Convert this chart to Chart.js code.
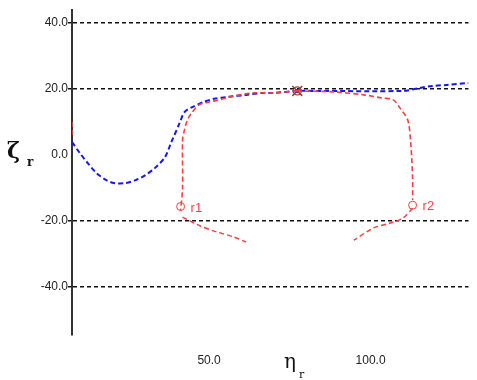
<!DOCTYPE html>
<html>
<head>
<meta charset="utf-8">
<script src="https://cdn.jsdelivr.net/npm/chart.js@4"></script>
<style>body{margin:0;background:#fff}</style>
</head>
<body>
<canvas id="c" width="477" height="380"></canvas>
<script>
// values (eta_r, zeta_r)
const yTicks = [-40, -20, 0, 20, 40];
const xTicks = [50, 100];

const blueX = [7.6, 10.0, 12.4, 15.2, 18.2, 20.6, 24.2, 27.3, 30.3, 33.3, 36.4, 38.2, 40.9, 42.4, 44.8, 48.5, 51.5, 56.1, 61.5, 66.7, 69.7, 77.3, 82.7, 110.0, 115.2, 119.1, 123.6, 130.3];
const blueY = [3.9, 0.6, -2.4, -5.5, -7.6, -8.5, -8.5, -7.6, -6.1, -3.9, -0.6, 3.6, 9.7, 13.0, 14.5, 16.1, 17.0, 17.6, 18.2, 18.8, 18.8, 19.4, 19.4, 19.4, 20.3, 20.9, 21.2, 21.8];

const red1X = [77.3, 69.7, 63.9, 56.4, 53.3, 50.3, 47.0, 44.8, 43.3, 42.4, 41.8, 41.8, 41.2];
const red1Y = [19.4, 18.8, 18.8, 17.6, 16.7, 16.1, 15.2, 13.0, 10.6, 7.6, 4.5, -10.0, -16.7];

const red1TailX = [41.8, 47.3, 52.4, 57.6, 61.5];
const red1TailY = [-18.8, -21.5, -23.3, -24.8, -26.4];

const red2X = [77.3, 88.8, 97.9, 103.3, 107.0, 109.1, 111.5, 112.4, 113.0, 113.0];
const red2Y = [19.4, 19.1, 18.2, 17.3, 16.7, 14.2, 10.6, 3.9, -7.0, -13.6];

const red2TailX = [113.0, 110.0, 106.1, 100.9, 94.8];
const red2TailY = [-16.1, -19.1, -20.6, -22.1, -25.8];

const redEdgeX = [7.6, 7.6];
const redEdgeY = [10.0, 6.0];

const meetX = [77.3];
const meetY = [19.4];

const tagText = ['r1', 'r2'];
const tagX = [41.2, 113.0];
const tagY = [-15.6, -15.2];

const pts = (xs, ys) => xs.map((x, i) => ({ x: x, y: ys[i] }));

const BLUE = '#1414ff';
const RED = '#ff3b3b';
const line = (xs, ys, color, w) => ({
  data: pts(xs, ys),
  showLine: true,
  borderColor: color,
  borderWidth: w,
  borderDash: [5, 3],
  tension: 0.3,
  pointRadius: 0,
  fill: false
});

const titles = {
  id: 'titles',
  afterDraw(chart) {
    const ctx = chart.ctx;
    const sx = chart.scales.x, sy = chart.scales.y;
    ctx.save();
    ctx.fillStyle = '#111';
    ctx.font = 'bold 22px "DejaVu Serif"';
    ctx.fillText('ζ', 7, 158);
    ctx.font = 'bold 12px "DejaVu Serif"';
    ctx.fillText('r', 27, 166);
    ctx.font = '20px "DejaVu Serif"';
    ctx.fillText('η', 284, 368);
    ctx.font = '11px "DejaVu Serif"';
    ctx.fillText('r', 299, 378);
    // point tags
    ctx.fillStyle = RED;
    ctx.font = '13px "Liberation Sans"';
    tagText.forEach((t, i) => {
      ctx.fillText(t, sx.getPixelForValue(tagX[i]) + 10, sy.getPixelForValue(tagY[i]) + 5);
    });
    ctx.restore();
  }
};

new Chart(document.getElementById('c'), {
  type: 'scatter',
  data: {
    datasets: [
      line(redEdgeX, redEdgeY, '#c04040', 2),
      line(red1X, red1Y, RED, 1.6),
      line(red1TailX, red1TailY, RED, 1.4),
      line(red2X, red2Y, RED, 1.6),
      line(red2TailX, red2TailY, RED, 1.4),
      line(blueX, blueY, BLUE, 2),
      {
        data: pts(tagX, tagY),
        pointStyle: 'circle',
        pointRadius: 4,
        borderColor: RED,
        borderWidth: 1,
        backgroundColor: 'rgba(0,0,0,0)'
      },
      {
        data: pts(meetX, meetY),
        pointStyle: 'crossRot',
        pointRadius: 7,
        borderColor: '#9a3a3a',
        borderWidth: 1.5
      },
      {
        data: pts(meetX, meetY),
        pointStyle: 'circle',
        pointRadius: 4,
        borderColor: '#9a3a3a',
        borderWidth: 1.2,
        backgroundColor: 'rgba(0,0,0,0)'
      },
      {
        data: pts(meetX, meetY),
        pointStyle: 'circle',
        pointRadius: 2,
        borderWidth: 0,
        backgroundColor: BLUE
      }
    ]
  },
  options: {
    responsive: false,
    animation: false,
    layout: { padding: { top: 10, right: 0, left: 0, bottom: 0 } },
    plugins: { legend: { display: false }, tooltip: { enabled: false } },
    scales: {
      x: {
        type: 'linear',
        min: 7.58,
        max: 130.3,
        afterBuildTicks: s => { s.ticks = xTicks.map(v => ({ value: v })); },
        afterFit: s => { s.height = 45; },
        grid: { display: false },
        border: { display: false },
        ticks: {
          callback: v => v.toFixed(1),
          color: '#222',
          font: { family: 'Liberation Sans', size: 12 },
          padding: 10,
          maxRotation: 0,
          autoSkip: false
        }
      },
      y: {
        min: -54.5,
        max: 43.9,
        afterBuildTicks: s => { s.ticks = yTicks.map(v => ({ value: v })); },
        afterFit: s => { s.width = 72; },
        grid: {
          color: c => (c.tick && c.tick.value === 0) ? 'rgba(0,0,0,0)' : '#111',
          lineWidth: 1.5,
          tickLength: 4
        },
        border: { display: true, color: '#333', width: 2, dash: [4, 3] },
        ticks: {
          callback: v => v.toFixed(1),
          color: '#222',
          font: { family: 'Liberation Sans', size: 12 },
          padding: 0
        }
      }
    }
  },
  plugins: [titles]
});
</script>
</body>
</html>
